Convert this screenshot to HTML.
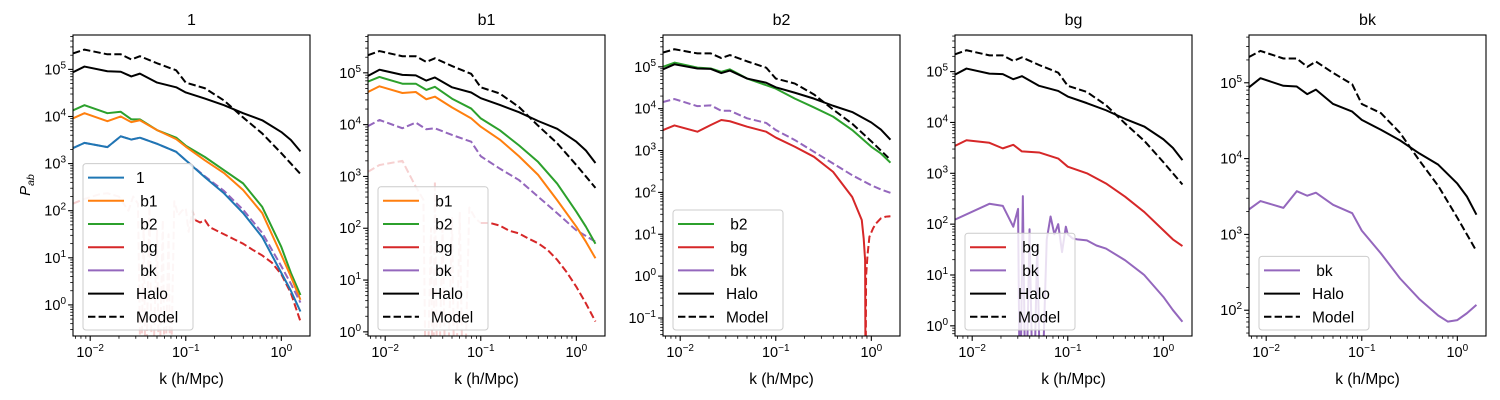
<!DOCTYPE html>
<html><head><meta charset="utf-8"><style>
html,body{margin:0;padding:0;background:#fff;width:1500px;height:400px;overflow:hidden;}
svg{display:block;font-family:"Liberation Sans","DejaVu Sans",sans-serif;}
</style></head><body>
<svg id="chart" width="1500" height="400" viewBox="0 0 1500 400" xmlns="http://www.w3.org/2000/svg"></svg>
<script>
// shared k grid (log10 k)
const gridK = [-2.18,-2.06,-1.82,-1.68,-1.57,-1.48,-1.3,-1.1,-1,-0.8,-0.6,-0.4,-0.2,0,0.1,0.2];
const haloV = [4.94,5.06,4.96,4.95,4.85,4.91,4.72,4.62,4.51,4.38,4.24,4.07,3.92,3.67,3.5,3.26];
const modelV = [5.34,5.42,5.32,5.32,5.21,5.28,5.13,4.98,4.72,4.6,4.34,3.98,3.64,3.22,3.0,2.78];
// panel 1
const p1OneV = [3.33,3.44,3.35,3.58,3.51,3.55,3.42,3.25,3.07,2.71,2.37,1.95,1.44,0.68,0.3,-0.14];
const p1BkDashV = [3.33,3.44,3.35,3.58,3.51,3.55,3.42,3.25,3.07,2.73,2.42,2.02,1.53,0.82,0.45,0.05];
const p1B1V = [3.96,4.07,3.9,4.0,3.88,3.92,3.71,3.52,3.36,3.07,2.8,2.44,1.95,1.06,0.6,0.11];
const p1B2V = [4.13,4.24,4.07,4.1,3.94,3.94,3.71,3.55,3.38,3.14,2.86,2.58,2.08,1.23,0.68,0.21];
const p1RedFaintK = [-2.18,-2.06,-1.9,-1.82,-1.7,-1.6,-1.55,-1.5,-1.47,-1.44,-1.42,-1.38,-1.35,-1.3,-1.28,-1.24,-1.22,-1.18,-1.16,-1.12,-1.08,-1.04,-1.0,-0.97,-0.93,-0.9];
const p1RedFaintV = [2.15,2.25,2.35,2.37,2.3,2.0,2.3,2.15,-2,1.8,-2,2.1,-2,1.6,-2,1.8,-2,1.5,-2,2.2,1.9,2.0,2.05,1.55,2.0,1.8];
const p1RedK = [-0.9,-0.85,-0.8,-0.75,-0.7,-0.6,-0.5,-0.4,-0.3,-0.2,-0.1,0,0.1,0.2];
const p1RedV = [1.8,1.75,1.8,1.65,1.6,1.5,1.4,1.3,1.17,1.05,0.9,0.65,0.25,-0.35];
// panel 2
const p2B1V = [4.63,4.74,4.61,4.63,4.49,4.54,4.33,4.12,3.96,3.71,3.39,3.03,2.54,2.03,1.74,1.42];
const p2B2V = [4.83,4.92,4.79,4.79,4.67,4.73,4.5,4.31,4.12,3.89,3.6,3.28,2.86,2.32,2.03,1.7];
const p2BkV = [3.97,4.09,3.93,4.04,3.91,3.93,3.8,3.67,3.39,3.15,2.93,2.61,2.29,1.96,1.85,1.74];
const p2RedFaintK = [-2.18,-2.06,-1.82,-1.68,-1.6,-1.57,-1.52,-1.5,-1.48,-1.45,-1.4,-1.36,-1.3,-1.27,-1.22,-1.18,-1.12,-1.06,-1.0];
const p2RedFaintV = [3.09,3.22,3.3,2.8,2.55,-2,2.0,-2,2.9,-2,2.0,-2,2.2,-2,2.3,-2,2.4,2.2,2.1];
const p2RedK = [-1.0,-0.9,-0.8,-0.7,-0.6,-0.5,-0.4,-0.3,-0.2,-0.1,0,0.1,0.2];
const p2RedV = [2.1,2.1,2.05,1.95,1.9,1.8,1.71,1.58,1.39,1.15,0.87,0.55,0.2];
// panel 3
const p3B2V = [5.0,5.1,4.98,4.96,4.88,4.94,4.72,4.56,4.48,4.24,4.03,3.81,3.49,3.09,2.93,2.71];
const p3BkV = [4.16,4.23,4.06,4.08,3.95,3.95,3.77,3.66,3.49,3.25,2.97,2.69,2.41,2.17,2.07,1.99];
const p3RedK = [-2.18,-2.06,-1.82,-1.68,-1.57,-1.48,-1.3,-1.1,-1,-0.8,-0.6,-0.4,-0.2,-0.1,-0.08,-0.065,-0.06];
const p3RedV = [3.49,3.6,3.45,3.61,3.73,3.7,3.57,3.45,3.31,3.09,2.85,2.49,1.89,1.34,0.9,0.38,-3];
const p3RedDashK = [-0.06,-0.055,-0.04,-0.02,0.02,0.05,0.1,0.15,0.2];
const p3RedDashV = [-3,0.0,0.5,0.94,1.15,1.26,1.38,1.42,1.43];
// panel 4
const p4RedV = [3.54,3.65,3.6,3.49,3.56,3.43,3.41,3.29,3.13,3.0,2.8,2.54,2.24,1.88,1.7,1.57];
const p4BkK = [-2.18,-1.82,-1.68,-1.57,-1.52,-1.5,-1.47,-1.44,-1.4,-1.36,-1.32,-1.28,-1.22,-1.18,-1.14,-1.1,-1.06,-1.02,-1.0,-0.95,-0.9,-0.8,-0.7,-0.6,-0.4,-0.2,0,0.1,0.2];
const p4BkV = [2.09,2.4,2.36,1.95,2.3,-2,2.55,-2,1.9,-2,1.6,-2,1.7,2.15,1.8,2.0,1.45,1.95,1.8,1.72,1.7,1.68,1.58,1.52,1.29,1.0,0.57,0.31,0.08];
// panel 5
const p5BkK = [-2.18,-2.06,-1.82,-1.68,-1.57,-1.48,-1.3,-1.1,-1,-0.8,-0.6,-0.4,-0.2,-0.1,0,0.1,0.2];
const p5BkV = [3.33,3.44,3.35,3.57,3.51,3.55,3.39,3.28,3.05,2.75,2.42,2.15,1.93,1.85,1.87,1.96,2.07];

const titles = ["1","b1","b2","bg","bk"];
const xTickDecades = [-2,-1,0];

const C = {c0:"#1f77b4",c1:"#ff7f0e",c2:"#2ca02c",c3:"#d62728",c4:"#9467bd",k:"#000"};
const NS="http://www.w3.org/2000/svg";
const svg=document.getElementById('chart');
function mk(tag,attrs,parent){const e=document.createElementNS(NS,tag);for(const a in attrs)e.setAttribute(a,attrs[a]);(parent||svg).appendChild(e);return e;}

const panels=[
 {left:73,ymin:-0.66,ymax:5.73,legend:[["1","c0",0],[" b1","c1",0],[" b2","c2",0],[" bg","c3",0],[" bk","c4",0],["Halo","k",0],["Model","k",1]],
  series:[[gridK,modelV,"k",1,1],[gridK,haloV,"k",0,1],[p1RedFaintK,p1RedFaintV,"c3",1,0.22],[p1RedK,p1RedV,"c3",1,1],[gridK,p1B2V,"c2",0,1],[gridK,p1B1V,"c1",0,1],[gridK,p1BkDashV,"c4",1,1],[gridK,p1OneV,"c0",0,1]]},
 {left:368,ymin:-0.08,ymax:5.73,legend:[[" b1","c1",0],[" b2","c2",0],[" bg","c3",0],[" bk","c4",0],["Halo","k",0],["Model","k",1]],
  series:[[gridK,modelV,"k",1,1],[gridK,haloV,"k",0,1],[p2RedFaintK,p2RedFaintV,"c3",1,0.22],[p2RedK,p2RedV,"c3",1,1],[gridK,p2BkV,"c4",1,1],[gridK,p2B2V,"c2",0,1],[gridK,p2B1V,"c1",0,1]]},
 {left:663,ymin:-1.43,ymax:5.76,legend:[[" b2","c2",0],[" bg","c3",0],[" bk","c4",0],["Halo","k",0],["Model","k",1]],
  series:[[gridK,modelV,"k",1,1],[gridK,p3BkV,"c4",1,1],[p3RedK,p3RedV,"c3",0,1],[p3RedDashK,p3RedDashV,"c3",1,1],[gridK,p3B2V,"c2",0,1],[gridK,haloV,"k",0,1]]},
 {left:955,ymin:-0.2,ymax:5.72,legend:[[" bg","c3",0],[" bk","c4",0],["Halo","k",0],["Model","k",1]],
  series:[[gridK,modelV,"k",1,1],[gridK,haloV,"k",0,1],[gridK,p4RedV,"c3",0,1],[p4BkK,p4BkV,"c4",0,1]]},
 {left:1249,ymin:1.66,ymax:5.63,legend:[[" bk","c4",0],["Halo","k",0],["Model","k",1]],
  series:[[gridK,modelV,"k",1,1],[gridK,haloV,"k",0,1],[p5BkK,p5BkV,"c4",0,1]]}
];
const W=237, TOP=35, BOT=336, XMIN=-2.18, XMAX=0.30;

panels.forEach((p,pi)=>{
  const g=mk('g',{});
  
  
  const xs=v=>p.left+(v-XMIN)/(XMAX-XMIN)*W;
  const ys=v=>BOT-(v-p.ymin)/(p.ymax-p.ymin)*(BOT-TOP);
  const cid='clip'+pi;
  const cp=mk('clipPath',{id:cid},g);mk('rect',{x:p.left,y:TOP,width:W,height:BOT-TOP},cp);
  const sg=mk('g',{'clip-path':'url(#'+cid+')'},g);
  p.series.forEach((s,si)=>{
    const d=s[0].map((k,i)=>(i?'L':'M')+xs(k).toFixed(2)+','+ys(s[1][i]).toFixed(2)).join('');
    const path=mk('path',{d:d,fill:'none',stroke:C[s[2]],'stroke-width':2,'stroke-linejoin':'round','stroke-opacity':s[4]},sg);
    if(s[3])path.setAttribute('stroke-dasharray','7.4,3.2');
    
    
  });
  const fr=mk('rect',{x:p.left,y:TOP,width:W,height:BOT-TOP,fill:'none',stroke:'#000','stroke-width':1.1},g);
  
  
  for(let d=-3;d<=0;d++){
    for(let m=1;m<10;m++){
      const v=d+Math.log10(m);
      if(v<XMIN||v>XMAX)continue;
      const x=xs(v);const L=m===1?4.9:2.8;
      mk('line',{x1:x,y1:BOT,x2:x,y2:BOT+L,stroke:'#000','stroke-width':m===1?1.1:0.8},g);
    }
  }
  xTickDecades.forEach(d=>{
    const t=mk('text',{x:xs(d),y:BOT+21,'font-size':14.5,'text-anchor':'middle'},g);
    
    
    t.innerHTML='10<tspan dy="-6" font-size="10">'+(d<0?'\u2212'+(-d):d)+'</tspan>';
  });
  for(let d=Math.floor(p.ymin);d<=Math.ceil(p.ymax);d++){
    for(let m=1;m<10;m++){
      const v=d+Math.log10(m);
      if(v<p.ymin||v>p.ymax)continue;
      const y=ys(v);const L=m===1?4.9:2.8;
      mk('line',{x1:p.left-L,y1:y,x2:p.left,y2:y,stroke:'#000','stroke-width':m===1?1.1:0.8},g);
      if(m===1){
        const t=mk('text',{x:p.left-7,y:y+5,'font-size':14.5,'text-anchor':'end'},g);
        
        
        t.innerHTML='10<tspan dy="-6" font-size="10">'+(d<0?'\u2212'+(-d):d)+'</tspan>';
      }
    }
  }
  const tt=mk('text',{x:p.left+W/2,y:25,'font-size':16,'text-anchor':'middle'},g);
  tt.textContent=titles[pi];
  
  
  const xl=mk('text',{x:p.left+W/2,y:384,'font-size':15.5,'text-anchor':'middle'},g);
  xl.textContent='k (h/Mpc)';
  
  
  const n=p.legend.length, lx=p.left+10, lh=23.2, ly=330-n*lh-4;
  const lg=mk('g',{},g);
  
  
  mk('rect',{x:lx,y:ly,width:110,height:n*lh+4,rx:3,fill:'#fff','fill-opacity':0.8,stroke:'#ccc','stroke-width':1},lg);
  p.legend.forEach((e,i)=>{
    const y=ly+14+i*lh;
    const ln=mk('line',{x1:lx+5,y1:y,x2:lx+41,y2:y,stroke:C[e[1]],'stroke-width':2},lg);
    if(e[2])ln.setAttribute('stroke-dasharray','7.4,3.2');
    const tx=mk('text',{x:lx+53,y:y+5.5,'font-size':15.5},lg);
    tx.setAttribute('style','white-space:pre');
    tx.textContent=e[0];
    
    
  });
});
const yl=mk('text',{x:0,y:0,'font-size':15,'text-anchor':'middle',transform:'translate(30,185) rotate(-90)'});
yl.innerHTML='<tspan font-style="italic">P</tspan><tspan dy="4" font-size="10.5" font-style="italic">ab</tspan>';


</script>
</body></html>
